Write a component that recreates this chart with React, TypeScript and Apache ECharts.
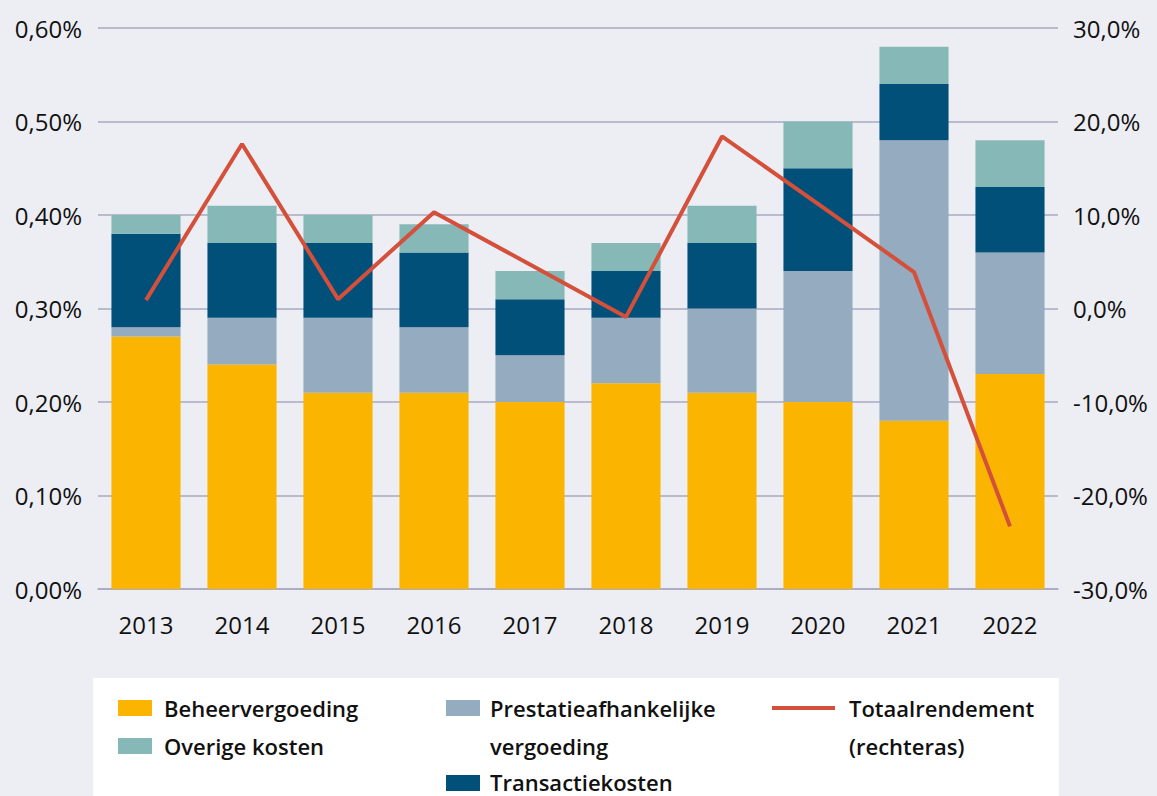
import React, { useEffect, useRef } from "react";
import * as echarts from "echarts";

const years = ["2013", "2014", "2015", "2016", "2017", "2018", "2019", "2020", "2021", "2022"];
const beheer = [0.27, 0.24, 0.21, 0.21, 0.2, 0.22, 0.21, 0.2, 0.18, 0.23];
const prestatie = [0.01, 0.05, 0.08, 0.07, 0.05, 0.07, 0.09, 0.14, 0.3, 0.13];
const transactie = [0.1, 0.08, 0.08, 0.08, 0.06, 0.05, 0.07, 0.11, 0.06, 0.07];
const overige = [0.02, 0.04, 0.03, 0.03, 0.03, 0.03, 0.04, 0.05, 0.04, 0.05];
const totaal = [0.9, 17.6, 1.0, 10.3, 4.7, -0.9, 18.4, 11.2, 3.9, -23.3];

const names = {
  beheer: "Beheervergoeding",
  prestatie: "Prestatieafhankelijke\nvergoeding",
  transactie: "Transactiekosten",
  overige: "Overige kosten",
  totaal: "Totaalrendement\n(rechteras)",
};
const colors = {
  beheer: "#FBB500",
  prestatie: "#95ABBF",
  transactie: "#00507A",
  overige: "#87B8B8",
  totaal: "#D4503A",
};

const FONT = "'Open Sans', sans-serif";
const BG = "#EDEEF4";
const GRID = "#A8A8C2";

export default function App() {
  const ref = useRef<HTMLDivElement>(null);
  useEffect(() => {
    document.body.style.margin = "0";
    const chart = echarts.init(ref.current!, null, { renderer: "svg" });
    const barSeries = (key: keyof typeof names, data: number[]) => ({
      type: "bar",
      name: names[key],
      stack: "kosten",
      data,
      barWidth: "72%",
      itemStyle: { color: colors[key] },
      yAxisIndex: 0,
    });
    const legendText = (x: number, yCenter: number, text: string, lh = 38) => ({
      type: "text",
      left: x,
      top: yCenter - lh / 2,
      style: {
        text,
        fill: "#111",
        font: `600 22px ${FONT}`,
        lineHeight: lh,
      },
    });
    const swatch = (x: number, y: number, color: string) => ({
      type: "rect",
      shape: { x, y, width: 34, height: 16 },
      style: { fill: color },
    });
    const axisLabelBase = {
      color: "#111",
      fontSize: 24,
      fontFamily: FONT,
    };
    chart.setOption({
      animation: false,
      backgroundColor: BG,
      textStyle: { fontFamily: FONT },
      grid: { left: 98, right: 99, top: 28, bottom: 207, containLabel: false },
      xAxis: {
        type: "category",
        data: years,
        axisLine: { show: true, lineStyle: { color: GRID, width: 1.5 } },
        axisTick: { show: false },
        axisLabel: { ...axisLabelBase, margin: 23 },
      },
      yAxis: [
        {
          type: "value",
          min: 0,
          max: 0.6,
          interval: 0.1,
          axisLine: { show: false },
          axisTick: { show: false },
          splitLine: { lineStyle: { color: GRID, width: 1.5 } },
          axisLabel: {
            ...axisLabelBase,
            margin: 16,
            formatter: (v: number) => v.toFixed(2).replace(".", ",") + "%",
          },
        },
        {
          type: "value",
          min: -30,
          max: 30,
          interval: 10,
          position: "right",
          axisLine: { show: false },
          axisTick: { show: false },
          splitLine: { show: false },
          axisLabel: {
            ...axisLabelBase,
            margin: 15,
            formatter: (v: number) => v.toFixed(1).replace(".", ",") + "%",
          },
        },
      ],
      series: [
        barSeries("beheer", beheer),
        barSeries("prestatie", prestatie),
        barSeries("transactie", transactie),
        barSeries("overige", overige),
        {
          type: "line",
          name: names.totaal,
          data: totaal,
          yAxisIndex: 1,
          symbol: "none",
          lineStyle: { color: colors.totaal, width: 4 },
          itemStyle: { color: colors.totaal },
        },
      ],
      graphic: [
        {
          type: "rect",
          shape: { x: 93, y: 678, width: 966, height: 130 },
          style: { fill: "#FFFFFF" },
          z: 0,
        },
        swatch(118, 700, colors.beheer),
        legendText(164, 708, names.beheer),
        swatch(118, 738, colors.overige),
        legendText(164, 746, names.overige),
        swatch(446, 700, colors.prestatie),
        legendText(490, 708, names.prestatie),
        swatch(446, 775, colors.transactie),
        legendText(490, 782, names.transactie, 26),
        {
          type: "line",
          shape: { x1: 772, y1: 708, x2: 835, y2: 708 },
          style: { stroke: colors.totaal, lineWidth: 4 },
        },
        legendText(849, 708, names.totaal),
      ],
    });
    return () => chart.dispose();
  }, []);
  return <div ref={ref} style={{ width: 1157, height: 796 }} />;
}
